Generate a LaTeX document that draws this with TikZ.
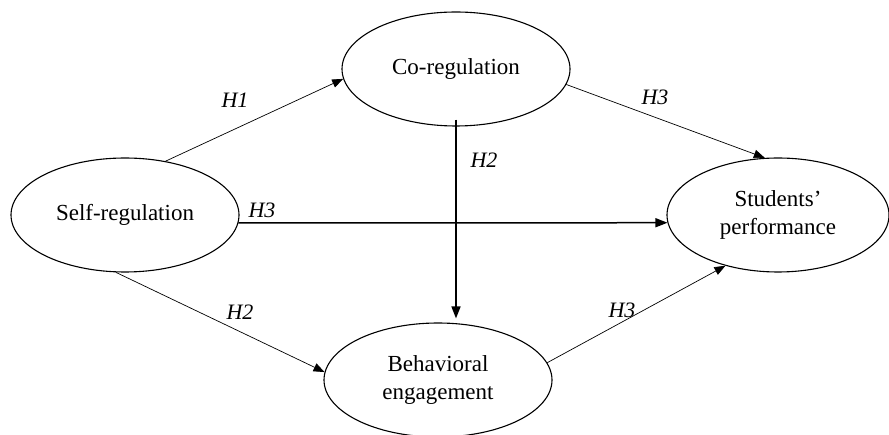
\documentclass[tikz,border=0pt]{standalone}
\usepackage{fontspec}
\setmainfont{Liberation Serif}
\usetikzlibrary{shapes.geometric,arrows.meta}
\begin{document}
\begin{tikzpicture}[x=1pt,y=-1pt,
  construct/.style={draw, ellipse, line width=1.1pt, inner sep=0pt,
    minimum width=228pt, minimum height=114pt, align=center,
    font=\fontsize{23}{27.5}\selectfont},
  hlabel/.style={font=\fontsize{22}{24}\selectfont\itshape, inner sep=0pt},
  thin arrow/.style={line width=0.7pt, -{Triangle[length=11pt,width=8.5pt]}},
  thick arrow/.style={line width=1.5pt, -{Triangle[length=12pt,width=9pt]}}]
\useasboundingbox (0,0) rectangle (889,435);
\node[construct] (sr) at (125,215) {Self-regulation};
\node[construct] (cr) at (456,69) {Co-regulation};
\node[construct, minimum width=222pt] (sp) at (778,215) {Students'\\performance};
\node[construct] (be) at (438,380) {Behavioral\\engagement};
% connectors
\draw[thin arrow] (sr.53) -- (cr.185);
\draw[thin arrow] (cr.-8) -- (sp.103);
\draw[thick arrow] (sr.-4) -- (sp.184);
\draw[thick arrow, shorten >=4pt] ([yshift=7pt]cr.south) -- (cr.south |- be.north);
\draw[thin arrow] (sr.-99) -- (be.176);
\draw[thin arrow] (be.9) -- (sp.224);
% labels
\node[hlabel] (l1) at (235,100) {H1};
\node[hlabel] (l2) at (655,97) {H3};
\node[hlabel] (l3) at (484,160) {H2};
\node[hlabel] (l4) at (262,210) {H3};
\node[hlabel] (l5) at (240,312) {H2};
\node[hlabel] (l6) at (622,310) {H3};
\end{tikzpicture}
\end{document}
